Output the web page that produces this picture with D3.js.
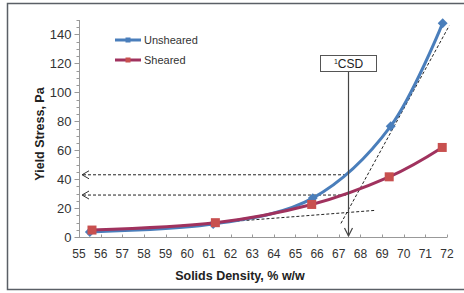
<!DOCTYPE html>
<html>
<head>
<meta charset="utf-8">
<script src="https://cdn.jsdelivr.net/npm/d3@7"></script>
<style>
  body { margin: 0; background: #fff; }
  svg text { font-family: "Liberation Sans", Arial, sans-serif; }
</style>
</head>
<body>
<div id="chart"></div>
<script>
// values
var xTicks = d3.range(55, 73)
var yTicks = [0, 20, 40, 60, 80, 100, 120, 140]
var yMinor = d3.range(0, 151, 5)

var unshearedX = [55.5, 61.2, 65.8, 69.4, 71.8]
var unshearedY = [3.5, 9, 26.9, 76.6, 147.8]
var shearedX = [55.6, 61.3, 65.75, 69.33, 71.78]
var shearedY = [4.8, 9.9, 22.5, 41.6, 61.9]

var csdX = 67.44
var csdLevels = [43, 29]
var tangentLow = [[55.6, 3.2], [68.67, 18.4]]
var tangentHigh = [[67.1, 9.4], [72.1, 146]]

var width = 464, height = 293

var svg = d3.select("#chart").append("svg")
	.attr("width", width)
	.attr("height", height)

// outer frame
svg.append("rect")
	.attr("x", 7.5).attr("y", 3.5)
	.attr("width", 470).attr("height", 286)
	.attr("fill", "#fff")
	.attr("stroke", "#5a5f66")
	.attr("stroke-width", 1.5)

var x = d3.scaleLinear().domain([55, 72]).range([79, 447])
var y = d3.scaleLinear().domain([0, 150]).range([237, 20])

// y axis
var yAxis = svg.append("g").attr("transform", "translate(79.5,0)")
yAxis.append("line")
	.attr("y1", y(150)).attr("y2", y(0))
	.attr("stroke", "#999")
yAxis.selectAll(".minor")
	.data(yMinor)
	.join("line")
	.attr("x1", -3).attr("x2", 0)
	.attr("y1", d => Math.round(y(d)) + 0.5)
	.attr("y2", d => Math.round(y(d)) + 0.5)
	.attr("stroke", "#999")
yAxis.selectAll(".major")
	.data(yTicks)
	.join("line")
	.attr("x1", -5).attr("x2", 0)
	.attr("y1", d => Math.round(y(d)) + 0.5)
	.attr("y2", d => Math.round(y(d)) + 0.5)
	.attr("stroke", "#999")
yAxis.selectAll("text")
	.data(yTicks)
	.join("text")
	.attr("x", -8)
	.attr("y", d => y(d))
	.attr("dy", "0.36em")
	.attr("text-anchor", "end")
	.attr("font-size", 13)
	.attr("fill", "#333")
	.text(d => d)

// x axis
var xAxis = svg.append("g").attr("transform", "translate(0,237.5)")
xAxis.append("line")
	.attr("x1", x(55)).attr("x2", x(72))
	.attr("stroke", "#999")
xAxis.selectAll(".tick")
	.data(xTicks)
	.join("line")
	.attr("x1", d => Math.round(x(d)) + 0.5)
	.attr("x2", d => Math.round(x(d)) + 0.5)
	.attr("y1", -3).attr("y2", 0)
	.attr("stroke", "#999")
xAxis.selectAll("text")
	.data(xTicks)
	.join("text")
	.attr("x", d => x(d))
	.attr("y", 20)
	.attr("text-anchor", "middle")
	.attr("font-size", 12)
	.attr("fill", "#333")
	.text(d => d)

// axis titles
svg.append("text")
	.attr("x", 240).attr("y", 280)
	.attr("text-anchor", "middle")
	.attr("font-size", 12.5)
	.attr("font-weight", "bold")
	.attr("fill", "#222")
	.text("Solids Density, %  w/w")

svg.append("text")
	.attr("transform", "translate(44,134) rotate(-90)")
	.attr("text-anchor", "middle")
	.attr("font-size", 12.5)
	.attr("font-weight", "bold")
	.attr("fill", "#222")
	.text("Yield Stress, Pa")

// dashed guide lines
var dashed = svg.append("g")
	.attr("stroke", "#222")
	.attr("stroke-width", 1)
	.attr("stroke-dasharray", "3,2")
	.attr("fill", "none")

csdLevels.forEach(function(v) {
	dashed.append("line")
		.attr("x1", x(55) + 4).attr("x2", x(csdX))
		.attr("y1", y(v)).attr("y2", y(v))
	svg.append("path")
		.attr("d", `M${x(55) + 10},${y(v) - 4} L${x(55) + 3},${y(v)} L${x(55) + 10},${y(v) + 4}`)
		.attr("fill", "none")
		.attr("stroke", "#333")
		.attr("stroke-width", 1)
})

var segLine = d3.line().x(d => x(d[0])).y(d => y(d[1]))
dashed.append("path").attr("d", segLine(tangentLow))
dashed.append("path").attr("d", segLine(tangentHigh))

// series (Excel-style smoothing = uniform Catmull-Rom)
var line = d3.line()
	.curve(d3.curveCatmullRom.alpha(0))
	.x(d => x(d[0]))
	.y(d => y(d[1]))

var unsheared = d3.zip(unshearedX, unshearedY)
var sheared = d3.zip(shearedX, shearedY)

svg.append("path")
	.datum(unsheared)
	.attr("fill", "none")
	.attr("stroke", "#4a7ebb")
	.attr("stroke-width", 3)
	.attr("d", line)

svg.selectAll(".dia")
	.data(unsheared)
	.join("path")
	.attr("transform", d => `translate(${x(d[0])},${y(d[1])}) rotate(45)`)
	.attr("d", "M-3.5,-3.5H3.5V3.5H-3.5Z")
	.attr("fill", "#4a7ebb")

svg.append("path")
	.datum(sheared)
	.attr("fill", "none")
	.attr("stroke", "#a0325e")
	.attr("stroke-width", 3)
	.attr("d", line)

svg.selectAll(".sq")
	.data(sheared)
	.join("rect")
	.attr("x", d => x(d[0]) - 4.5)
	.attr("y", d => y(d[1]) - 4.5)
	.attr("width", 9).attr("height", 9)
	.attr("fill", "#c8504f")

// CSD marker
var cx = Math.round(x(csdX)) + 0.5
svg.append("line")
	.attr("x1", cx).attr("x2", cx)
	.attr("y1", 71).attr("y2", y(0) - 1)
	.attr("stroke", "#444")
	.attr("stroke-width", 1.2)
svg.append("path")
	.attr("d", `M${cx - 4},${y(0) - 9} L${cx},${y(0) - 1} L${cx + 4},${y(0) - 9}`)
	.attr("fill", "none")
	.attr("stroke", "#444")
	.attr("stroke-width", 1.2)

svg.append("rect")
	.attr("x", 320.5).attr("y", 55.5)
	.attr("width", 56).attr("height", 16)
	.attr("fill", "#fff")
	.attr("stroke", "#555")
var csdText = svg.append("text")
	.attr("x", cx).attr("y", 68)
	.attr("text-anchor", "middle")
	.attr("font-size", 12)
	.attr("fill", "#222")
csdText.append("tspan").attr("font-size", 7).attr("dy", -4).text("1")
csdText.append("tspan").attr("dy", 4).text("CSD")

// legend
var legend = [
	{name: "Unsheared", color: "#4a7ebb", mark: "#4a7ebb", y: 40},
	{name: "Sheared", color: "#a0325e", mark: "#c8504f", y: 60}
]
var lg = svg.selectAll(".lg").data(legend).join("g")
lg.append("line")
	.attr("x1", 115).attr("x2", 141)
	.attr("y1", d => d.y).attr("y2", d => d.y)
	.attr("stroke", d => d.color)
	.attr("stroke-width", 3)
lg.append("rect")
	.attr("x", 125.5).attr("y", d => d.y - 2.5)
	.attr("width", 5).attr("height", 5)
	.attr("fill", d => d.mark)
lg.append("text")
	.attr("x", 144).attr("y", d => d.y)
	.attr("dy", "0.35em")
	.attr("font-size", 11)
	.attr("fill", "#333")
	.text(d => d.name)
</script>
</body>
</html>
